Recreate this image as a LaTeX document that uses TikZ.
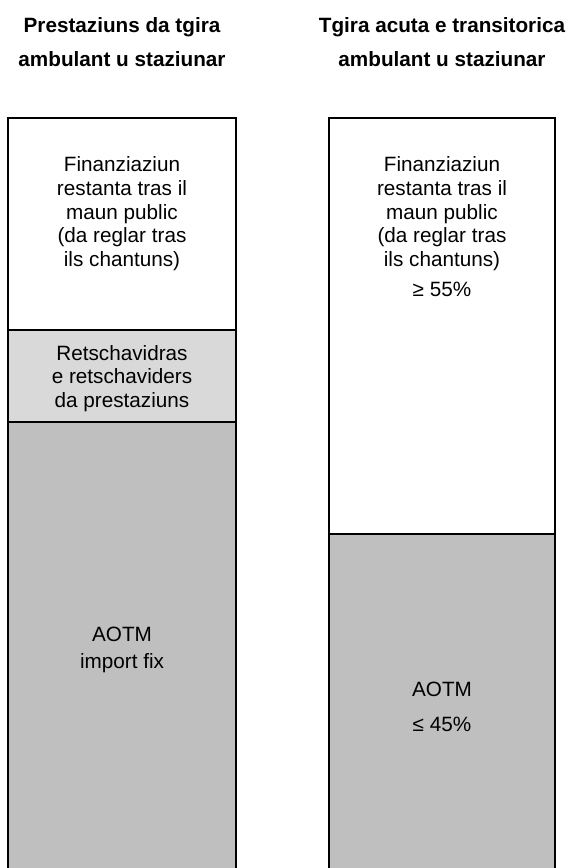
\documentclass[tikz,border=0pt]{standalone}
\usepackage{fontspec}
\setmainfont{Liberation Sans}
\definecolor{midgray}{HTML}{D9D9D9}
\definecolor{darkgray}{HTML}{BFBFBF}
\tikzset{
  px/.style={x=1pt,y=-1pt},
  sect/.style={draw=black,line width=1.2pt},
  head/.style={anchor=base,inner sep=0pt,font=\fontsize{20.7}{34}\selectfont\bfseries},
  body/.style={anchor=base,inner sep=0pt,font=\fontsize{20.7}{23.7}\selectfont},
}
\newcommand{\ctab}[1]{\begin{tabular}[t]{@{}c@{}}#1\end{tabular}}
\begin{document}
\begin{tikzpicture}[px]
\useasboundingbox (0,0) rectangle (574,868);
% left column
\path[sect,fill=white] (8,118) rectangle (236,330);
\path[sect,fill=midgray] (8,330) rectangle (236,422);
\path[sect,fill=darkgray] (8,422) rectangle (236,880);
% right column
\path[sect,fill=white] (329,118) rectangle (555,534);
\path[sect,fill=darkgray] (329,534) rectangle (555,880);
% headers
\node[head] (hl) at (122,32) {\ctab{Prestaziuns da tgira\\ ambulant u staziunar}};
\node[head] (hr) at (442,32) {\ctab{Tgira acuta e transitorica\\ ambulant u staziunar}};
% left texts
\node[body] (l1) at (122,171.7) {\ctab{Finanziaziun\\ restanta tras il\\ maun public\\ (da reglar tras\\ ils chantuns)}};
\node[body] (l2) at (122,360) {\ctab{Retschavidras\\ e retschaviders\\ da prestaziuns}};
\node[body] (l3) at (122,641.7) {\ctab{AOTM\\[3pt] import fix}};
% right texts
\node[body] (r1) at (442,171.7) {\ctab{Finanziaziun\\ restanta tras il\\ maun public\\ (da reglar tras\\ ils chantuns)\\[6.3pt] ≥ 55\%}};
\node[body] (r2) at (442,696.7) {\ctab{AOTM\\[10.6pt] ≤ 45\%}};
\end{tikzpicture}
\end{document}
